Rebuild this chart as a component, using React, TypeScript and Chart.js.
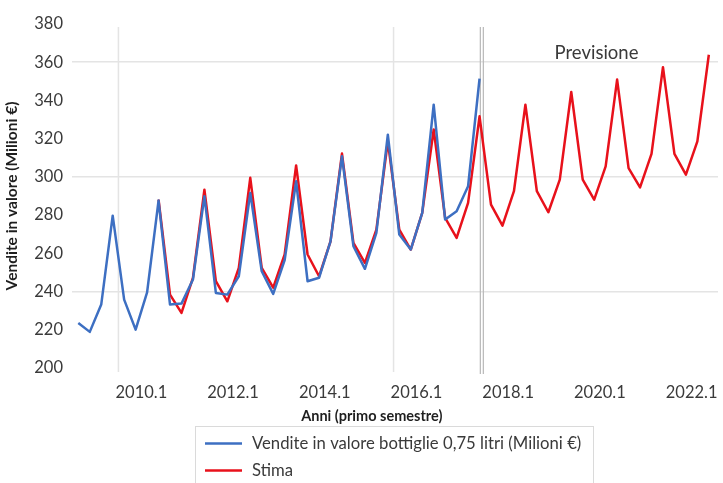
import React, { useEffect, useRef } from 'react';
import { Chart, registerables } from 'chart.js';

Chart.register(...registerables);

// Quarterly series (index 0 = first observation)
const salesValues: number[] = [
  223.6, 218.9, 233.2, 279.7, 235.8, 220.1, 239.6, 287.6, 233.2, 233.7,
  246.3, 289.9, 239.3, 238.4, 248.0, 291.6, 250.6, 238.8, 256.5, 297.7,
  245.4, 247.2, 266.3, 310.8, 263.7, 251.9, 270.7, 322.1, 269.8, 262.0,
  281.2, 337.8, 277.7, 282.0, 295.1, 351.4,
];

const estimateValues: (number | null)[] = [
  null, null, null, null, null, null, null,
  288.1, 238.4, 228.8, 247.2, 293.3, 245.4, 234.9, 252.4, 299.5, 252.4,
  242.0, 259.4, 306.0, 259.4, 248.0, 266.3, 312.2, 265.5, 255.0, 272.4,
  318.6, 272.4, 262.0, 281.2, 324.8, 278.5, 268.1, 286.4, 331.7, 285.5,
  274.5, 292.5, 337.8, 292.5, 281.5, 298.6, 344.4, 298.6, 288.1, 305.5,
  350.9, 304.6, 294.5, 312.0, 357.4, 312.0, 301.2, 318.6, 363.9,
];

const xTickLabels: string[] = ['2010.1', '2012.1', '2014.1', '2016.1', '2018.1', '2020.1', '2022.1'];
const yTickValues: number[] = [200, 220, 240, 260, 280, 300, 320, 340, 360, 380];
const yGridValues: number[] = [240, 300, 360];

const seriesLabels = ['Vendite in valore bottiglie 0,75 litri (Milioni €)', 'Stima'];
const yTitle = 'Vendite in valore (Milioni €)';
const xTitle = 'Anni (primo semestre)';
const forecastLabel = 'Previsione';

const FIRST_TICK = 5.5;
const TICK_STEP = 8;
const VERTICAL_GRID = [3.5, 27.5];
const FORECAST_AT = 35.2;

const BLUE = '#3d6fc2';
const RED = '#e8111b';
const TEXT = '#3a3a3a';
const FONT = 'Lato, "Open Sans", sans-serif';

const decorPlugin = {
  id: 'decor',
  beforeDatasetsDraw(chart: any) {
    const { ctx, chartArea, scales } = chart;
    const xs = scales.x;
    ctx.save();
    ctx.strokeStyle = '#e4e4e4';
    ctx.lineWidth = 1.5;
    VERTICAL_GRID.forEach((v) => {
      const px = xs.getPixelForValue(v);
      ctx.beginPath();
      ctx.moveTo(px, chartArea.top + 3);
      ctx.lineTo(px, chartArea.bottom + 4);
      ctx.stroke();
    });
    const fx = xs.getPixelForValue(FORECAST_AT);
    ctx.strokeStyle = '#b8b8b8';
    ctx.lineWidth = 1.2;
    [-1.5, 1.5].forEach((d) => {
      ctx.beginPath();
      ctx.moveTo(fx + d, chartArea.top + 3);
      ctx.lineTo(fx + d, chartArea.bottom + 6);
      ctx.stroke();
    });
    ctx.restore();
  },
  afterDraw(chart: any) {
    const { ctx, chartArea, scales } = chart;
    const xs = scales.x;
    const ys = scales.y;
    ctx.save();
    // Forecast label
    ctx.fillStyle = TEXT;
    ctx.font = `18.5px ${FONT}`;
    ctx.textAlign = 'center';
    ctx.textBaseline = 'middle';
    ctx.fillText(forecastLabel, xs.getPixelForValue(45.2), ys.getPixelForValue(365));
    // X axis title
    ctx.font = `bold 14.5px ${FONT}`;
    ctx.fillStyle = '#1e1e1e';
    ctx.fillText(xTitle, xs.getPixelForValue(25.6), chartArea.bottom + 48);
    // Legend box
    const boxL = 195, boxT = chartArea.bottom + 58, boxR = 593;
    ctx.strokeStyle = '#dadada';
    ctx.lineWidth = 1;
    ctx.strokeRect(boxL + 0.5, Math.round(boxT) + 0.5, boxR - boxL, 80);
    ctx.font = `16.7px ${FONT}`;
    ctx.textAlign = 'left';
    chart.data.datasets.forEach((ds: any, i: number) => {
      const y = boxT + 17.5 + i * 27;
      ctx.strokeStyle = ds.borderColor;
      ctx.lineWidth = 2.5;
      ctx.beginPath();
      ctx.moveTo(boxL + 10, y);
      ctx.lineTo(boxL + 47, y);
      ctx.stroke();
      ctx.fillStyle = TEXT;
      ctx.fillText(ds.label, boxL + 57, y);
    });
    ctx.restore();
  },
};

export default function App() {
  const ref = useRef<HTMLCanvasElement | null>(null);
  useEffect(() => {
    document.body.style.margin = '0';
    const canvas = ref.current;
    if (!canvas) return;
    Chart.defaults.font.family = FONT;
    const chart = new Chart(canvas, {
      type: 'line',
      data: {
        datasets: [
          {
            label: seriesLabels[0],
            data: salesValues.map((v, i) => ({ x: i, y: v })),
            borderColor: BLUE,
            backgroundColor: BLUE,
            borderWidth: 2.5,
            borderJoinStyle: 'round',
            pointRadius: 0,
            tension: 0,
          },
          {
            label: seriesLabels[1],
            data: estimateValues
              .map((v, i) => ({ x: i, y: v }))
              .filter((p) => p.y !== null) as any,
            borderColor: RED,
            backgroundColor: RED,
            borderWidth: 2.5,
            borderJoinStyle: 'round',
            pointRadius: 0,
            tension: 0,
          },
        ],
      },
      options: {
        responsive: false,
        animation: false,
        layout: { padding: { top: 24, right: 5, bottom: 59, left: 0 } },
        plugins: { legend: { display: false }, tooltip: { enabled: false } },
        scales: {
          x: {
            type: 'linear',
            min: -0.55,
            max: 55.8,
            grid: { display: false },
            border: { display: false },
            afterBuildTicks: (scale: any) => {
              scale.ticks = xTickLabels.map((_, k) => ({ value: FIRST_TICK + k * TICK_STEP }));
            },
            ticks: {
              autoSkip: false,
              maxRotation: 0,
              padding: 7,
              color: TEXT,
              font: { size: 16.5, family: FONT },
              callback: (_v: any, index: number) => xTickLabels[index],
            },
            afterFit: (scale: any) => {
              scale.height = 56;
              scale.paddingLeft = 0;
              scale.paddingRight = 0;
            },
          },
          y: {
            min: 200,
            max: 380,
            afterBuildTicks: (scale: any) => {
              scale.ticks = yTickValues.map((v) => ({ value: v }));
            },
            grid: {
              drawTicks: false,
              lineWidth: 1.5,
              color: (c: any) => (yGridValues.includes(c.tick?.value) ? '#e4e4e4' : 'rgba(0,0,0,0)'),
            },
            border: { display: false },
            ticks: {
              padding: 9,
              color: TEXT,
              font: { size: 16.5, family: FONT },
            },
            title: {
              display: true,
              text: yTitle,
              color: '#1e1e1e',
              font: { size: 15.5, weight: 'bold', family: FONT },
              padding: { top: 3, bottom: 0 },
            },
            afterFit: (scale: any) => {
              scale.width = 72;
            },
          },
        },
      },
      plugins: [decorPlugin],
    } as any);
    return () => chart.destroy();
  }, []);
  return (
    <div style={{ width: 723, height: 483, background: '#fff' }}>
      <canvas ref={ref} width={723} height={483} style={{ display: 'block', width: 723, height: 483 }} />
    </div>
  );
}
